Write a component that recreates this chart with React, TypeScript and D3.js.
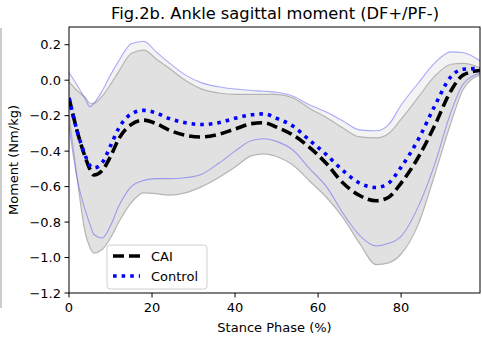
import React from "react";
import * as d3 from "d3";

// Stance phase (%) sample points
const phase = [0, 2, 4, 5, 6, 8, 10, 12, 15, 18, 21, 24, 28, 32, 36, 40, 44, 47, 50, 54, 58, 62, 66, 70, 74, 77, 80, 84, 88, 92, 95, 99];

// CAI group: mean, mean+SD, mean-SD
const caiMean = [-0.1, -0.29, -0.44, -0.5, -0.535, -0.51, -0.43, -0.33, -0.25, -0.225, -0.245, -0.28, -0.31, -0.32, -0.305, -0.275, -0.245, -0.24, -0.265, -0.31, -0.38, -0.47, -0.58, -0.65, -0.68, -0.66, -0.58, -0.44, -0.26, -0.06, 0.03, 0.055];
const caiUpper = [-0.01, -0.06, -0.1, -0.13, -0.13, -0.09, -0.025, 0.05, 0.15, 0.17, 0.12, 0.07, 0.0, -0.05, -0.072, -0.08, -0.08, -0.08, -0.08, -0.1, -0.16, -0.21, -0.27, -0.32, -0.325, -0.3, -0.22, -0.1, 0.02, 0.09, 0.095, 0.07];
const caiLower = [-0.2, -0.56, -0.87, -0.94, -0.975, -0.955, -0.89, -0.8, -0.69, -0.635, -0.64, -0.648, -0.635, -0.6, -0.55, -0.49, -0.425, -0.415, -0.43, -0.48, -0.57, -0.66, -0.775, -0.92, -1.04, -1.03, -0.98, -0.82, -0.54, -0.24, -0.05, 0.03];

// Control group: mean, mean+SD, mean-SD
const ctrlMean = [-0.1, -0.29, -0.43, -0.48, -0.495, -0.465, -0.37, -0.27, -0.19, -0.17, -0.185, -0.215, -0.24, -0.25, -0.24, -0.215, -0.195, -0.19, -0.215, -0.26, -0.34, -0.42, -0.51, -0.58, -0.605, -0.58, -0.49, -0.34, -0.15, 0.02, 0.062, 0.066];
const ctrlUpper = [0.045, -0.03, -0.11, -0.15, -0.13, -0.06, 0.03, 0.11, 0.205, 0.22, 0.16, 0.1, 0.03, -0.015, -0.037, -0.05, -0.058, -0.062, -0.068, -0.09, -0.14, -0.18, -0.23, -0.28, -0.285, -0.25, -0.14, -0.02, 0.095, 0.16, 0.155, 0.11];
const ctrlLower = [-0.26, -0.56, -0.74, -0.81, -0.87, -0.89, -0.82, -0.71, -0.6, -0.565, -0.555, -0.555, -0.55, -0.53, -0.47, -0.4, -0.34, -0.33, -0.345, -0.395, -0.5, -0.6, -0.75, -0.875, -0.935, -0.92, -0.88, -0.72, -0.48, -0.18, -0.02, 0.04];

const xTicks = [0, 20, 40, 60, 80];
const yTicks = [0.2, 0.0, -0.2, -0.4, -0.6, -0.8, -1.0, -1.2];
const legendLabels = ["CAI", "Control"];

const W = 482;
const H = 349;
const left = 69;
const right = 480;
const top = 27;
const bottom = 293;

const font = "'DejaVu Sans', sans-serif";

export default function App() {
  const x = d3.scaleLinear().domain([0, 99]).range([left, right]);
  const y = d3.scaleLinear().domain([-1.2, 0.3]).range([bottom, top]);

  const line = (vals: number[]) =>
    d3
      .line<number>()
      .x((_, i) => x(phase[i]))
      .y((d) => y(d))
      .curve(d3.curveMonotoneX)(vals) as string;

  const area = (lo: number[], hi: number[]) =>
    d3
      .area<number>()
      .x((_, i) => x(phase[i]))
      .y0((_, i) => y(lo[i]))
      .y1((_, i) => y(hi[i]))
      .curve(d3.curveMonotoneX)(phase) as string;

  const fmt = (v: number) => {
    const s = Math.abs(v).toFixed(1);
    return v < -1e-9 ? "\u2212" + s : s;
  };

  const ctrlEdge = "rgba(40,40,255,0.38)";

  return (
    <svg
      width={W}
      height={H}
      style={{ position: "absolute", left: 0, top: 0, background: "#fff" }}
      fontFamily={font}
    >
      <defs>
        <clipPath id="plotclip">
          <rect x={left} y={top} width={right - left} height={bottom - top} />
        </clipPath>
      </defs>
      <rect x={0} y={0} width={W} height={H} fill="#fff" />
      <line x1={1} x2={1} y1={28} y2={308} stroke="#999" strokeWidth={1} />

      <text x={275} y={19} textAnchor="middle" fontSize={16.3} fill="#000">
        Fig.2b. Ankle sagittal moment (DF+/PF-)
      </text>

      <g clipPath="url(#plotclip)">
        <path d={area(ctrlLower, ctrlUpper)} fill="#f3f3f3" stroke="none" />
        <path d={area(caiLower, caiUpper)} fill="#e1e1e1" stroke="none" />
        <path d={line(caiUpper)} fill="none" stroke="#b4b4b4" strokeWidth={1.2} />
        <path d={line(caiLower)} fill="none" stroke="#b4b4b4" strokeWidth={1.2} />
        <path d={line(ctrlUpper)} fill="none" stroke={ctrlEdge} strokeWidth={1.1} />
        <path d={line(ctrlLower)} fill="none" stroke={ctrlEdge} strokeWidth={1.1} />
        <path
          d={line(caiMean)}
          fill="none"
          stroke="#000"
          strokeWidth={3.6}
          strokeDasharray="11,5"
        />
        <path
          d={line(ctrlMean)}
          fill="none"
          stroke="#0000ff"
          strokeWidth={3.6}
          strokeDasharray="3.6,5"
        />
      </g>

      {/* axes frame */}
      <rect x={left} y={top} width={right - left} height={bottom - top} fill="none" stroke="#000" strokeWidth={1} />

      {xTicks.map((t) => (
        <g key={"x" + t}>
          <line x1={x(t)} x2={x(t)} y1={bottom} y2={bottom + 4.5} stroke="#000" strokeWidth={1} />
          <text x={x(t)} y={bottom + 19} textAnchor="middle" fontSize={13} fill="#000">
            {t}
          </text>
        </g>
      ))}
      {yTicks.map((t) => (
        <g key={"y" + t}>
          <line x1={left - 4.5} x2={left} y1={y(t)} y2={y(t)} stroke="#000" strokeWidth={1} />
          <text x={left - 8} y={y(t) + 4.6} textAnchor="end" fontSize={13} fill="#000">
            {fmt(t)}
          </text>
        </g>
      ))}

      <text x={(left + right) / 2} y={332} textAnchor="middle" fontSize={13} fill="#000">
        Stance Phase (%)
      </text>
      <text
        transform={`translate(18,${(top + bottom) / 2}) rotate(-90)`}
        textAnchor="middle"
        fontSize={13}
        fill="#000"
      >
        Moment (Nm/kg)
      </text>

      {/* legend */}
      <g>
        <rect x={107} y={245} width={100} height={44} rx={3} fill="rgba(255,255,255,0.8)" stroke="#d0d0d0" strokeWidth={1} />
        <line x1={113} x2={140} y1={256} y2={256} stroke="#000" strokeWidth={3.6} strokeDasharray="11,5" />
        <text x={151} y={261} fontSize={13} fill="#000">
          {legendLabels[0]}
        </text>
        <line x1={113} x2={140} y1={276} y2={276} stroke="#0000ff" strokeWidth={3.6} strokeDasharray="3.6,5" />
        <text x={151} y={281} fontSize={13} fill="#000">
          {legendLabels[1]}
        </text>
      </g>
    </svg>
  );
}
